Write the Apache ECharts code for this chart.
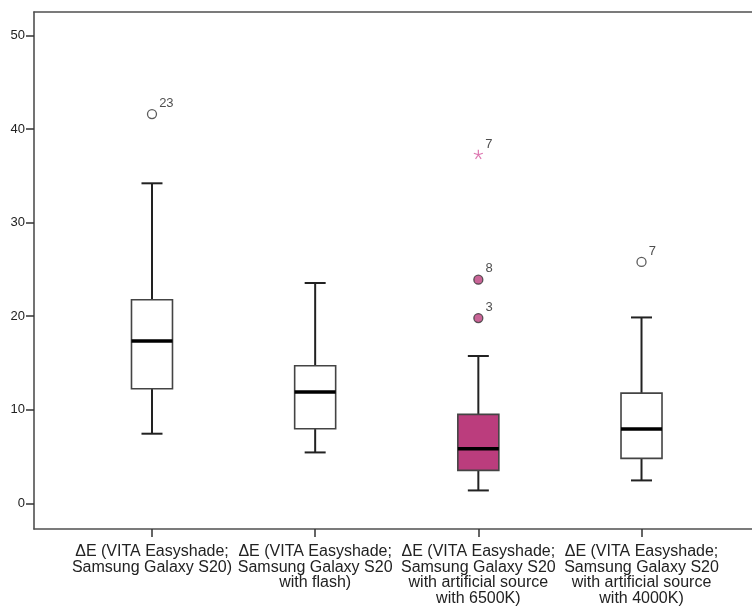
<!DOCTYPE html>
<html>
<head>
<meta charset="utf-8">
<script src="https://cdn.jsdelivr.net/npm/echarts@6/dist/echarts.min.js"></script>
<style>
  html, body { margin: 0; padding: 0; background: #fff; }
  #chart { width: 752px; height: 610px; }
</style>
</head>
<body>
<div id="chart"></div>
<script>
// Box plot of ΔE for four measurement setups
const categories = [
  'ΔE (VITA Easyshade;\nSamsung Galaxy S20)',
  'ΔE (VITA Easyshade;\nSamsung Galaxy S20\nwith flash)',
  'ΔE (VITA Easyshade;\nSamsung Galaxy S20\nwith artificial source\nwith 6500K)',
  'ΔE (VITA Easyshade;\nSamsung Galaxy S20\nwith artificial source\nwith 4000K)'
];
const whiskerLow  = [7.45, 5.45, 1.39, 2.46];
const quartile1   = [12.25, 7.98, 3.53, 4.81];
const medians     = [17.35, 11.9, 5.84, 7.95];
const quartile3   = [21.76, 14.71, 9.51, 11.79];
const whiskerHigh = [34.2, 23.55, 15.75, 19.87];

// Outliers: [category index, value, case number]
const outliers = [[0, 41.6, '23'], [2, 23.9, '8'], [2, 19.8, '3'], [3, 25.8, '7']];
// Extreme values: [category index, value, case number]
const extremes = [[2, 37.3, '7']];

const yTicks = [0, 10, 20, 30, 40, 50];

// Fill colour per box
const boxFill = ['#ffffff', '#ffffff', '#bb3d7d', '#ffffff'];
const starColor = '#d4549c';
const FONT = '"Liberation Sans", Arial, sans-serif';
const frameLine = { color: '#505050', width: 1.6 };

const boxData = categories.map((c, i) =>
  [i, whiskerLow[i], quartile1[i], medians[i], quartile3[i], whiskerHigh[i]]);

const chart = echarts.init(document.getElementById('chart'));

function renderBox(params, api) {
  const i = api.value(0);
  const pLo = api.coord([i, api.value(1)]);
  const pQ1 = api.coord([i, api.value(2)]);
  const pMd = api.coord([i, api.value(3)]);
  const pQ3 = api.coord([i, api.value(4)]);
  const pHi = api.coord([i, api.value(5)]);
  const x = pMd[0];
  const half = 20.5, cap = 10.5;
  const line = '#222';
  return {
    type: 'group',
    children: [
      { type: 'line', shape: { x1: x, y1: pLo[1], x2: x, y2: pQ1[1] }, style: { stroke: line, lineWidth: 2 } },
      { type: 'line', shape: { x1: x, y1: pQ3[1], x2: x, y2: pHi[1] }, style: { stroke: line, lineWidth: 2 } },
      { type: 'line', shape: { x1: x - cap, y1: pLo[1], x2: x + cap, y2: pLo[1] }, style: { stroke: line, lineWidth: 2 } },
      { type: 'line', shape: { x1: x - cap, y1: pHi[1], x2: x + cap, y2: pHi[1] }, style: { stroke: line, lineWidth: 2 } },
      { type: 'rect', shape: { x: x - half, y: pQ3[1], width: half * 2, height: pQ1[1] - pQ3[1] },
        style: { fill: boxFill[i], stroke: '#444', lineWidth: 1.6 } },
      { type: 'line', shape: { x1: x - half, y1: pMd[1], x2: x + half, y2: pMd[1] }, style: { stroke: '#000', lineWidth: 3.5 } }
    ]
  };
}

const labelStyle = {
  show: true, position: 'right', distance: 2, offset: [0, -11],
  color: '#222', fontSize: 13, fontFamily: FONT,
  formatter: p => p.value[2]
};

chart.setOption({
  animation: false,
  backgroundColor: '#fff',
  grid: [
    // outer frame (left, top and bottom edges drawn by axis lines)
    { left: 34, right: 0, top: 12, bottom: 81 },
    // data area
    { left: 70.4, right: 28.9, top: 12, bottom: 81 }
  ],
  xAxis: [
    { gridIndex: 0, type: 'value', position: 'bottom', min: 0, max: 1,
      axisLine: { show: true, onZero: false, lineStyle: frameLine },
      axisTick: { show: false }, axisLabel: { show: false }, splitLine: { show: false } },
    { gridIndex: 0, type: 'value', position: 'top', min: 0, max: 1,
      axisLine: { show: true, onZero: false, lineStyle: frameLine },
      axisTick: { show: false }, axisLabel: { show: false }, splitLine: { show: false } },
    {
      gridIndex: 1, type: 'category', data: categories, position: 'bottom',
      axisLine: { show: false, onZero: false },
      axisTick: { show: true, alignWithLabel: true, length: 8, lineStyle: { color: '#333', width: 1.5 } },
      axisLabel: { color: '#222', fontSize: 16, fontFamily: FONT, lineHeight: 15.5, margin: 15, interval: 0 }
    }
  ],
  yAxis: [
    { gridIndex: 0, type: 'value', position: 'left', min: 0, max: 1,
      axisLine: { show: true, onZero: false, lineStyle: frameLine },
      axisTick: { show: false }, axisLabel: { show: false }, splitLine: { show: false } },
    {
      gridIndex: 1, type: 'value', min: -2.73, max: 52.5, offset: 36.4,
      splitLine: { show: false },
      axisLine: { show: false, onZero: false },
      axisTick: { show: true, length: 8, customValues: yTicks, lineStyle: { color: '#333', width: 1.5 } },
      axisLabel: { color: '#222', fontSize: 13, fontFamily: FONT, margin: 9, customValues: yTicks }
    }
  ],
  series: [
    {
      type: 'custom', xAxisIndex: 2, yAxisIndex: 1,
      renderItem: renderBox,
      encode: { x: 0, y: [1, 2, 3, 4, 5] },
      data: boxData, z: 2
    },
    {
      type: 'scatter', xAxisIndex: 2, yAxisIndex: 1,
      symbol: 'circle', symbolSize: 9,
      data: outliers.map(o => ({
        value: o,
        itemStyle: { color: boxFill[o[0]], borderColor: '#333', borderWidth: 1.3 }
      })),
      label: labelStyle,
      z: 3
    },
    {
      type: 'scatter', xAxisIndex: 2, yAxisIndex: 1,
      symbol: 'path://M0,-10L0,0M9.5,-3.1L0,0M5.9,8.1L0,0M-5.9,8.1L0,0M-9.5,-3.1L0,0',
      symbolSize: 9,
      itemStyle: { color: 'none', borderColor: starColor, borderWidth: 1.2 },
      data: extremes,
      label: Object.assign({}, labelStyle, { distance: 0, offset: [0, -10] }),
      z: 3
    }
  ]
});
</script>
</body>
</html>
